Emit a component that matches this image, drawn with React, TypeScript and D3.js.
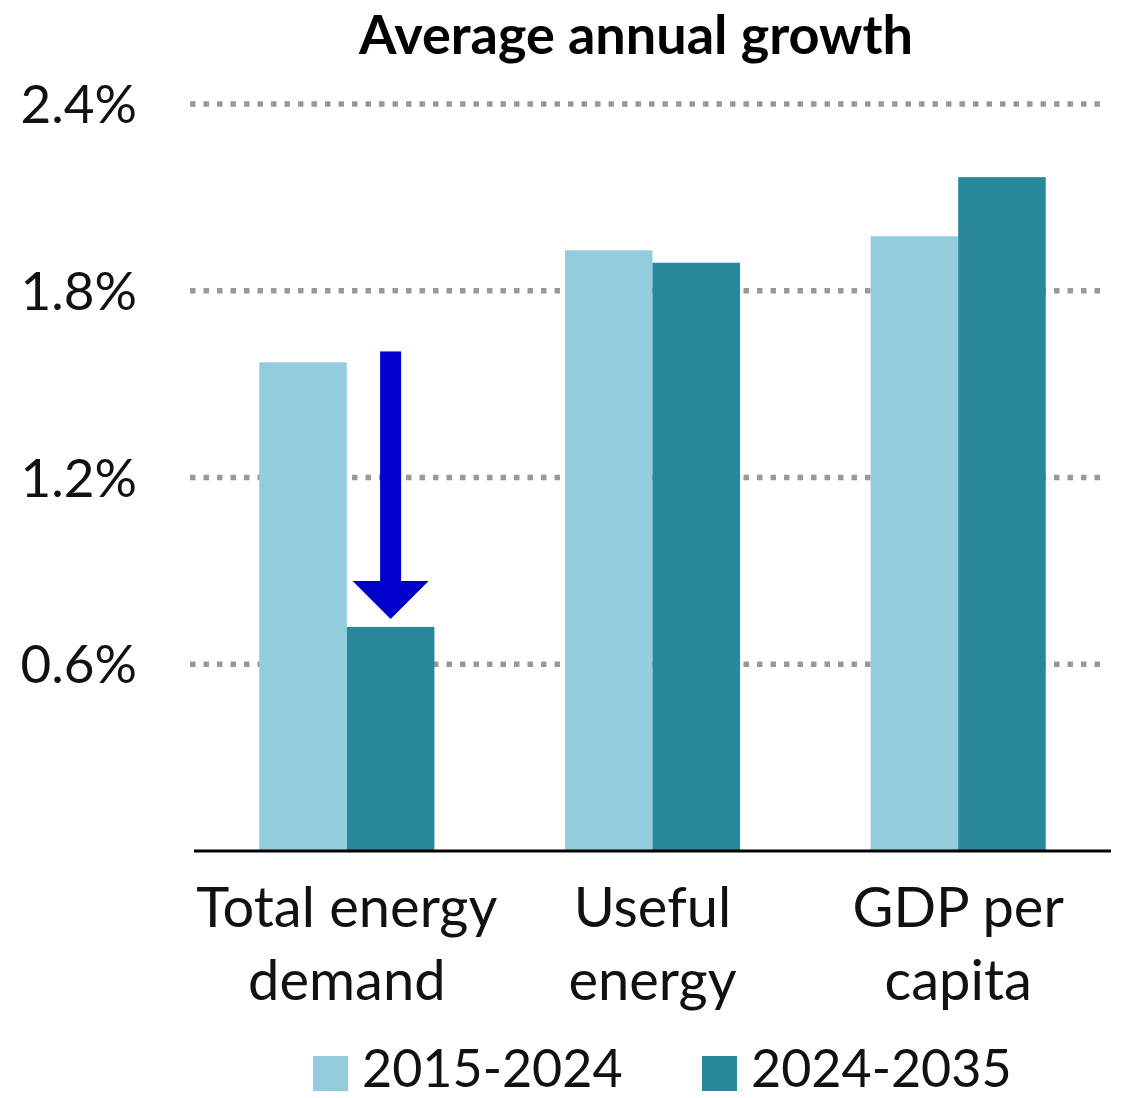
import React from "react";
import * as d3 from "d3";

const categories: string[][] = [
  ["Total energy", "demand"],
  ["Useful", "energy"],
  ["GDP per", "capita"],
];
const seriesNames = ["2015-2024", "2024-2035"];
const series2015_2024 = [1.57, 1.93, 1.975];
const series2024_2035 = [0.72, 1.89, 2.165];
const yTicks = [0.6, 1.2, 1.8, 2.4];
const title = "Average annual growth";

const W = 1128;
const H = 1098;
const colors = ["#93CDDD", "#27889C"];
const FONT = "Lato, 'Open Sans', sans-serif";

export default function App() {
  const x0 = d3
    .scaleBand<number>()
    .domain(categories.map((_, i) => i))
    .range([194, 1111])
    .paddingInner(0.427)
    .paddingOuter(0.2135);
  const x1 = d3
    .scaleBand<number>()
    .domain([0, 1])
    .range([0, x0.bandwidth()]);
  const y = d3.scaleLinear().domain([0, 2.4]).range([851, 104]);
  const values = [series2015_2024, series2024_2035];

  // arrow annotation over the first category's second bar
  const arrowX = (x0(0) as number) + (x1(1) as number) + x1.bandwidth() / 2;
  const arrowTop = y(1.605);
  const arrowTip = y(series2024_2035[0]) - 8;
  const headH = 38;
  const headW = 76;
  const shaftW = 21;

  const legendItems = [
    { name: seriesNames[0], x: 313 },
    { name: seriesNames[1], x: 702 },
  ];

  return (
    <svg
      width={W}
      height={H}
      style={{ position: "absolute", left: 0, top: 0, background: "#fff" }}
      fontFamily={FONT}
    >
      <text
        x={636}
        y={54}
        textAnchor="middle"
        fontSize={54}
        fontWeight="bold"
        fill="#000"
      >
        {title}
      </text>

      {yTicks.map((t) => (
        <g key={t}>
          <line
            x1={190}
            x2={1104}
            y1={y(t)}
            y2={y(t)}
            stroke="#999"
            strokeWidth={5.5}
            strokeDasharray="5.5 8"
          />
          <text
            x={137}
            y={y(t)}
            dy="0.36em"
            textAnchor="end"
            fontSize={53}
            fill="#111"
          >
            {d3.format(".1f")(t) + "%"}
          </text>
        </g>
      ))}

      {values.map((vals, s) =>
        vals.map((v, i) => (
          <rect
            key={`${s}-${i}`}
            x={(x0(i) as number) + (x1(s) as number)}
            y={y(v)}
            width={x1.bandwidth()}
            height={y(0) - y(v)}
            fill={colors[s]}
          />
        ))
      )}

      <line x1={194} x2={1111} y1={y(0)} y2={y(0)} stroke="#000" strokeWidth={3} />

      {categories.map((lines, i) => (
        <text
          key={i}
          x={(x0(i) as number) + x0.bandwidth() / 2}
          textAnchor="middle"
          fontSize={56}
          fill="#111"
        >
          {lines.map((l, j) => (
            <tspan key={j} x={(x0(i) as number) + x0.bandwidth() / 2} y={927 + j * 73}>
              {l}
            </tspan>
          ))}
        </text>
      ))}

      <rect
        x={arrowX - shaftW / 2}
        y={arrowTop}
        width={shaftW}
        height={arrowTip - headH - arrowTop + 1}
        fill="#0000CC"
      />
      <path
        d={`M${arrowX - headW / 2},${arrowTip - headH} L${arrowX + headW / 2},${arrowTip - headH} L${arrowX},${arrowTip} Z`}
        fill="#0000CC"
      />

      {legendItems.map((it, i) => (
        <g key={it.name}>
          <rect x={it.x} y={1056} width={35} height={35} fill={colors[i]} />
          <text x={it.x + 49} y={1087} fontSize={52} fill="#111">
            {it.name}
          </text>
        </g>
      ))}
    </svg>
  );
}
